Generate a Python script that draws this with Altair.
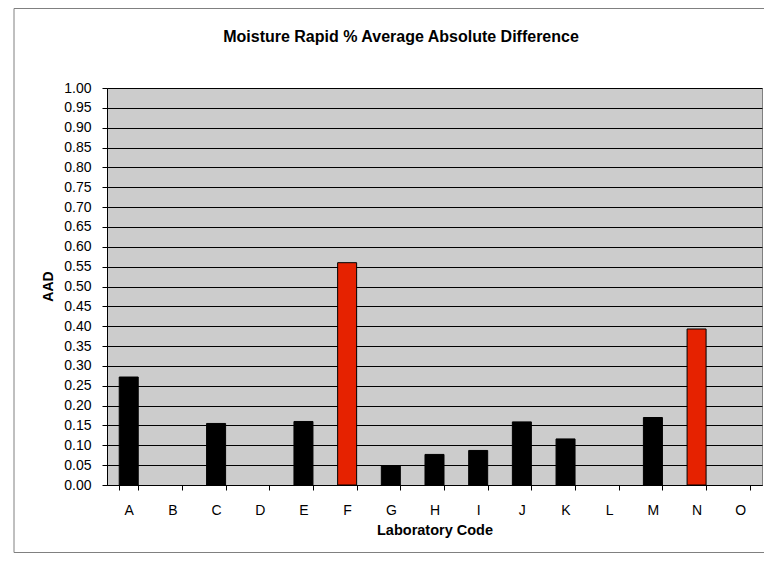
import altair as alt
import pandas as pd

labs = ["A", "B", "C", "D", "E", "F", "G", "H", "I", "J", "K", "L", "M", "N", "O"]
aad = [0.272, None, 0.155, None, 0.160, 0.560, 0.049, 0.077, 0.087, 0.159, 0.116, None, 0.170, 0.393, None]
flag = ["ok", "ok", "ok", "ok", "ok", "high", "ok", "ok", "ok", "ok", "ok", "ok", "ok", "high", "ok"]
y_ticks = [round(i * 0.05, 2) for i in range(21)]
title_text = "Moisture Rapid % Average Absolute Difference"

df = pd.DataFrame({"lab": labs, "aad": aad, "flag": flag})

FONT = "Liberation Sans"

frame = alt.Chart(pd.DataFrame({"a": [0]})).mark_rect(
    fill=None, stroke="#808080", strokeWidth=1, clip=False
).encode(
    x=alt.value(-93), x2=alt.value(700), y=alt.value(-79.5), y2=alt.value(464.5)
)

title = alt.Chart(pd.DataFrame({"t": [title_text]})).mark_text(
    font=FONT, fontSize=16, fontWeight="bold", color="black",
    align="center", baseline="middle", clip=False
).encode(
    text="t:N", x=alt.value(294), y=alt.value(-51)
)

bars = alt.Chart(df).mark_bar(stroke="black", strokeWidth=1).encode(
    x=alt.X("lab:N", sort=labs,
            scale=alt.Scale(domain=labs, paddingInner=0.565, paddingOuter=0.28),
            axis=alt.Axis(title="Laboratory Code", labelAngle=0, tickBand="extent",
                          tickSize=5, labelPadding=13, titlePadding=6,
                          labelFontSize=14, titleFontSize=14.5, titleFontWeight="bold",
                          domainColor="black", tickColor="black")),
    y=alt.Y("aad:Q", scale=alt.Scale(domain=[0, 1]),
            axis=alt.Axis(title="AAD", values=y_ticks, format=".2f", tickSize=5,
                          labelPadding=11, labelFontSize=14, titleFontSize=14,
                          titleFontWeight="bold", grid=True, gridColor="black",
                          gridOpacity=1, gridWidth=1,
                          titleX=-59, titleY=198, titleAlign="center",
                          titleBaseline="middle",
                          domainColor="black", tickColor="black")),
    color=alt.Color("flag:N", scale=alt.Scale(domain=["ok", "high"],
                                               range=["#000000", "#E62200"]),
                    legend=None),
)

chart = alt.layer(frame, title, bars).properties(
    width=655, height=397,
    padding={"left": 99, "top": 80, "right": 2, "bottom": 68},
    autosize=alt.AutoSizeParams(type="none"),
).configure(font=FONT).configure_view(
    fill="#CCCCCC", stroke="#808080", strokeWidth=1
).configure_axis(
    labelFont=FONT, titleFont=FONT, labelColor="black", titleColor="black"
)

chart.save("out.html", embed_options={"renderer": "svg", "actions": False})
